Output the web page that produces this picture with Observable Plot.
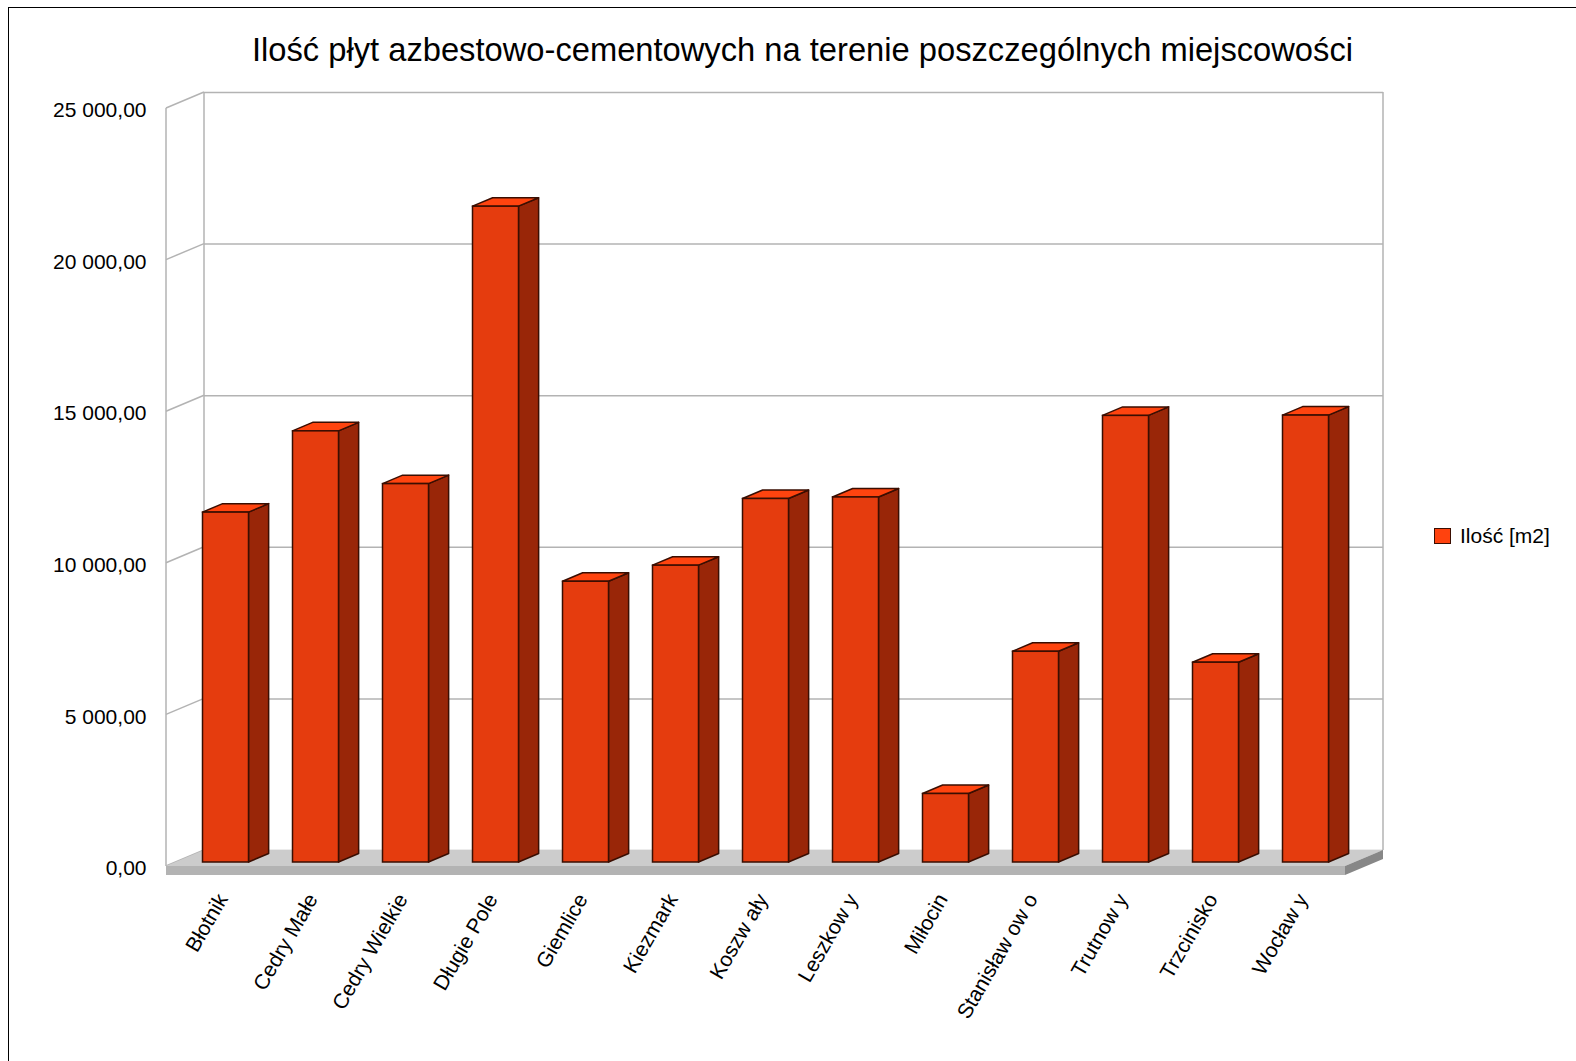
<!DOCTYPE html>
<html>
<head>
<meta charset="utf-8">
<script src="https://cdn.jsdelivr.net/npm/d3@7"></script>
<script src="https://cdn.jsdelivr.net/npm/@observablehq/plot@0.6"></script>
<style>
  body { margin: 0; background: #fff; }
  #page { position: relative; width: 1576px; height: 1061px; overflow: hidden; background: #fff;
          font-family: "Liberation Sans", Arial, sans-serif; color: #000; }
  #frame { position: absolute; left: 8px; top: 7px; width: 1700px; height: 1200px;
           border-left: 1.5px solid #000; border-top: 1.5px solid #000; }
  #title { position: absolute; left: 252px; top: 34px; font-size: 32.7px; line-height: 1; white-space: nowrap; }
  #chart { position: absolute; left: 0; top: 80px; }
  #legend { position: absolute; left: 1434px; top: 524px; display: flex; align-items: center; font-size: 21px; white-space: nowrap; }
  #legend .sw { display: inline-block; width: 15px; height: 14px; background: #ff420e; border: 1px solid #3a0e02; margin-right: 9px; }
</style>
</head>
<body>
<div id="page">
  <div id="frame"></div>
  <div id="title"></div>
  <div id="chart"></div>
  <div id="legend"><span class="sw"></span><span id="legendText"></span></div>
</div>
<script>
// ---- data ----
const chartTitle = "Ilość płyt azbestowo-cementowych na terenie poszczególnych miejscowości";
const seriesName = "Ilość [m2]";
const categories = ["Błotnik", "Cedry Małe", "Cedry Wielkie", "Długie Pole", "Giemlice", "Kiezmark",
  "Koszw ały", "Leszkow y", "Miłocin", "Stanisław ow o", "Trutnow y", "Trzcinisko", "Wocław y"];
const values = [11540, 14220, 12480, 21630, 9260, 9790, 11990, 12040, 2260, 6950, 14730, 6590, 14740];
const yTicks = [0, 5000, 10000, 15000, 20000, 25000];

const data = categories.map((name, i) => ({name, value: values[i]}));

document.getElementById("title").textContent = chartTitle;
document.getElementById("legendText").textContent = seriesName;

const fmt = d3.formatLocale({decimal: ",", thousands: " ", grouping: [3], currency: ["", ""]}).format(",.2f");

// ---- 3D geometry (pixels) ----
const DX = 38, DY = -16;      // full depth of the chart box
const F0 = 0.25, F1 = 0.78;   // front / back depth of the bars
const INSET = 22;             // bar inset inside its band
const FLOOR_T = 9;            // floor slab thickness
const GRID = "#b3b3b3";

function bandW(x, dims) {
  return (x.bandwidth ? x.bandwidth() : (dims.width - dims.marginLeft - dims.marginRight) / categories.length);
}

// walls: left wall lines & vertical edges
function walls(index, scales, values_, dims) {
  const {y} = scales;
  const L = dims.marginLeft, R = dims.width - dims.marginRight;
  const g = d3.create("svg:g").attr("fill", "none").attr("stroke", GRID).attr("stroke-width", 1.5);
  const y0 = y(yTicks[0]), y1 = y(yTicks[yTicks.length - 1]);
  for (const t of yTicks) {
    g.append("line").attr("x1", L).attr("y1", y(t)).attr("x2", L + DX).attr("y2", y(t) + DY);
  }
  g.append("line").attr("x1", L).attr("y1", y0).attr("x2", L).attr("y2", y1);
  g.append("line").attr("x1", L + DX).attr("y1", y0 + DY).attr("x2", L + DX).attr("y2", y1 + DY);
  g.append("line").attr("x1", R + DX).attr("y1", y0 + DY).attr("x2", R + DX).attr("y2", y1 + DY);
  return g.node();
}

// floor slab
function floor(index, scales, values_, dims) {
  const {y} = scales;
  const L = dims.marginLeft, R = dims.width - dims.marginRight;
  const y0 = y(0);
  const g = d3.create("svg:g");
  g.append("polygon").attr("fill", "#cccccc")
    .attr("points", [[L, y0], [R, y0], [R + DX, y0 + DY], [L + DX, y0 + DY]].join(" "));
  g.append("rect").attr("fill", "#b3b3b3").attr("x", L).attr("y", y0).attr("width", R - L).attr("height", FLOOR_T);
  g.append("polygon").attr("fill", "#878787")
    .attr("points", [[R, y0], [R + DX, y0 + DY], [R + DX, y0 + DY + FLOOR_T], [R, y0 + FLOOR_T]].join(" "));
  return g.node();
}

// side and top faces of the bars
function barFaces(index, scales, values_, dims) {
  const {x, y} = scales;
  const bw = bandW(x, dims);
  const ox = DX * F0, oy = DY * F0;
  const ddx = DX * (F1 - F0), ddy = DY * (F1 - F0);
  const g = d3.create("svg:g").attr("stroke", "#3a0e02").attr("stroke-width", 1.5).attr("stroke-linejoin", "round");
  for (const d of data) {
    const xl = x(d.name) + INSET + ox, xr = x(d.name) + bw - INSET + ox;
    const yt = y(d.value) + oy, yb = y(0) + oy;
    g.append("polygon").attr("fill", "#992608")
      .attr("points", [[xr, yt], [xr + ddx, yt + ddy], [xr + ddx, yb + ddy], [xr, yb]].join(" "));
    g.append("polygon").attr("fill", "#ff440f")
      .attr("points", [[xl, yt], [xr, yt], [xr + ddx, yt + ddy], [xl + ddx, yt + ddy]].join(" "));
  }
  return g.node();
}

const chart = Plot.plot({
  width: 1400,
  height: 981,
  marginLeft: 166,
  marginRight: 55,
  marginTop: 28,
  marginBottom: 195,
  style: {fontFamily: "'Liberation Sans', Arial, sans-serif", background: "transparent", overflow: "visible"},
  x: {type: "band", domain: categories, paddingInner: 0, paddingOuter: 0, axis: null},
  y: {domain: [0, 25000], axis: null},
  marks: [
    Plot.ruleY(yTicks, {dx: DX, dy: DY, stroke: GRID, strokeWidth: 1.5}),
    walls,
    floor,
    barFaces,
    Plot.barY(data, {x: "name", y: "value", fill: "#e53c0e", stroke: "#3a0e02", strokeWidth: 1.5,
      insetLeft: INSET, insetRight: INSET, dx: DX * F0, dy: DY * F0}),
    Plot.text(yTicks, {y: d => d, text: d => fmt(d), frameAnchor: "left", textAnchor: "end",
      dx: -20, dy: 2, fontSize: 21, fill: "#000"}),
    Plot.text(categories, {x: d => d, text: d => d, frameAnchor: "bottom", rotate: -60,
      textAnchor: "end", lineAnchor: "top", dx: -1, dy: 25, fontSize: 21, fill: "#000"})
  ]
});
document.getElementById("chart").appendChild(chart);
</script>
</body>
</html>
